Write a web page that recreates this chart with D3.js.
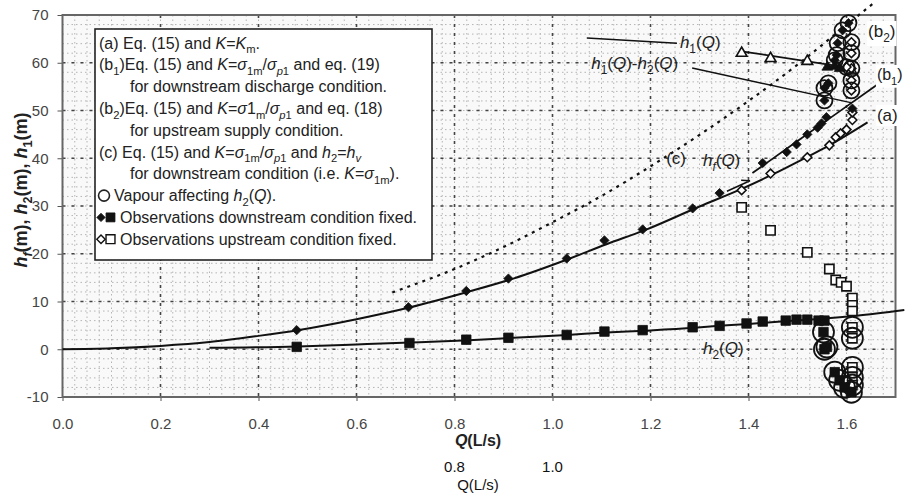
<!DOCTYPE html>
<html>
<head>
<meta charset="utf-8">
<script src="https://d3js.org/d3.v7.min.js"></script>
<style>
  body { margin: 0; background: #fff; }
  svg text { font-family: Arial, "Liberation Sans", sans-serif; }
</style>
</head>
<body>
<svg id="chart" width="906" height="495"></svg>
<script>
// ---- values ----
var xTicks = [0.0, 0.2, 0.4, 0.6, 0.8, 1.0, 1.2, 1.4, 1.6];
var yTicks = [-10, 0, 10, 20, 30, 40, 50, 60, 70];
var extraTicks = [0.8, 1.0];

// curve (a) : h_f(Q)
var curveAQ = [0, 0.1, 0.2, 0.3, 0.4, 0.48, 0.6, 0.71, 0.83, 0.92, 1.03, 1.11, 1.19, 1.3, 1.386, 1.447, 1.52, 1.565, 1.643];
var curveAH = [0, 0.2, 0.7, 1.5, 2.8, 4.0, 6.3, 8.8, 12.1, 14.8, 18.8, 22.0, 25.0, 29.9, 33.6, 36.5, 40.3, 42.7, 47.5];
// curve (b1)
var curveB1Q = [1.408, 1.5, 1.58, 1.661];
var curveB1H = [36.9, 43.6, 49.4, 55.3];
// curve (c), dotted
var curveCQ = [0.673, 0.8, 0.9, 1.0, 1.1, 1.2, 1.3, 1.4, 1.5, 1.6, 1.653];
var curveCH = [11.9, 16.8, 21.4, 26.6, 32.1, 38.3, 44.9, 52.0, 59.6, 67.9, 72.3];
// h2(Q)
var curveH2Q = [0.3, 0.48, 0.6, 0.71, 0.83, 0.92, 1.03, 1.11, 1.19, 1.29, 1.34, 1.4, 1.48, 1.55, 1.62, 1.718];
var curveH2H = [0.3, 0.6, 1.0, 1.4, 1.9, 2.4, 3.0, 3.5, 3.9, 4.5, 4.9, 5.3, 5.9, 6.4, 7.0, 8.2];
// h1(Q)
var curveH1Q = [1.386, 1.59];
var curveH1H = [62.4, 59.2];

// observations, downstream condition fixed (filled)
var dsDiamondQ = [0.478, 0.706, 0.824, 0.91, 1.029, 1.106, 1.184, 1.286, 1.341, 1.429, 1.478, 1.498, 1.52, 1.541, 1.549, 1.559, 1.612];
var dsDiamondH = [4.0, 8.8, 12.2, 14.8, 19.0, 22.8, 25.1, 29.5, 32.7, 39.0, 41.3, 42.9, 45.0, 46.4, 47.3, 48.6, 50.4];
var dsSquareQ = [0.478, 0.708, 0.824, 0.91, 1.029, 1.106, 1.184, 1.286, 1.341, 1.396, 1.429, 1.476, 1.498, 1.52, 1.543, 1.555];
var dsSquareH = [0.5, 1.3, 2.0, 2.4, 3.0, 3.7, 4.0, 4.6, 4.9, 5.4, 5.8, 6.0, 6.2, 6.2, 6.0, 6.0];
var dsTriangleQ = [1.561, 1.576, 1.586];
var dsTriangleH = [59.1, 59.3, 58.8];

// observations, upstream condition fixed (open)
var usDiamondQ = [1.386, 1.445, 1.52, 1.565, 1.578, 1.588, 1.6, 1.612, 1.612];
var usDiamondH = [33.3, 36.8, 40.2, 42.7, 44.4, 45.2, 46.0, 48.0, 49.6];
var usSquareQ = [1.386, 1.445, 1.52, 1.565, 1.578, 1.589, 1.6, 1.612, 1.612, 1.612];
var usSquareH = [29.7, 24.9, 20.3, 16.8, 14.5, 14.0, 13.2, 10.7, 9.2, 8.0];
var usTriangleQ = [1.386, 1.445, 1.52, 1.61];
var usTriangleH = [62.0, 60.9, 60.3, 58.3];

// vapour affecting h2(Q) (circled)
var vdDiamondQ = [1.555, 1.563, 1.555, 1.576, 1.58, 1.582, 1.592, 1.604];
var vdDiamondH = [52.1, 55.7, 54.7, 60.5, 61.6, 64.1, 66.8, 68.3];
var vuDiamondQ = [1.61, 1.61, 1.61, 1.6, 1.61, 1.61];
var vuDiamondH = [54.2, 56.3, 58.8, 59.1, 62.0, 64.3];
var vdSquareQ = [1.553, 1.555, 1.56, 1.576, 1.586, 1.596, 1.61];
var vdSquareH = [3.6, 0.0, 0.5, -4.8, -6.5, -8.0, -9.0];
var vuSquareQ = [1.612, 1.612, 1.612, 1.612, 1.612];
var vuSquareH = [4.6, 2.3, -3.8, -5.9, -7.5];

// legend text: [text, style]  i = italic, s = subscript
var legendRows = [
  [["(a) Eq. (15) and "], ["K", "i"], ["="], ["K", "i"], ["m", "s"], ["."]],
  [["(b"], ["1", "s"], [")Eq. (15) and "], ["K", "i"], ["="], ["\u03c3", "i"], ["1m", "s"], ["/"], ["\u03c3", "i"], ["p", "is"], ["1", "s"], [" and eq. (19)"]],
  [["for downstream discharge condition."]],
  [["(b"], ["2", "s"], [")Eq. (15) and "], ["K", "i"], ["="], ["\u03c3", "i"], ["1"], ["m", "s"], ["/"], ["\u03c3", "i"], ["p", "is"], ["1", "s"], [" and eq. (18)"]],
  [["for upstream supply condition."]],
  [["(c) Eq. (15) and "], ["K", "i"], ["="], ["\u03c3", "i"], ["1m", "s"], ["/"], ["\u03c3", "i"], ["p", "is"], ["1", "s"], [" and "], ["h", "i"], ["2", "s"], ["="], ["h", "i"], ["v", "is"]],
  [["for downstream condition (i.e. "], ["K", "i"], ["="], ["\u03c3", "i"], ["1m", "s"], [")."]],
  [["Vapour affecting "], ["h", "i"], ["2", "s"], ["("], ["Q", "i"], [")."]],
  [["Observations downstream condition fixed."]],
  [["Observations upstream condition fixed."]]
];
var legendKind = ["text", "text", "indent", "text", "indent", "text", "indent", "circle", "filled", "open"];

// ---- drawing ----
var svg = d3.select("#chart");
var x = d3.scaleLinear().domain([0, 1.7]).range([62.5, 895.5]);
var y = d3.scaleLinear().domain([-10, 70]).range([397, 15]);

function zip(qs, hs) { return qs.map(function (q, i) { return [q, hs[i]]; }); }

function rich(sel, parts, size) {
  var cur = 0;
  parts.forEach(function (p) {
    var st = p[1] || "";
    var sub = st.indexOf("s") >= 0;
    var off = sub ? size * 0.3 : 0;
    var ts = sel.append("tspan").text(p[0]);
    if (off - cur !== 0) ts.attr("dy", off - cur);
    cur = off;
    if (st.indexOf("i") >= 0) ts.attr("font-style", "italic");
    if (sub) ts.attr("font-size", size * 0.7);
  });
}

// plot background + grid texture
svg.append("rect").attr("x", x(0)).attr("y", y(70))
  .attr("width", x(1.7) - x(0)).attr("height", y(-10) - y(70)).attr("fill", "#f9f9f9");

var grid = svg.append("g");
grid.selectAll(".mx").data(d3.range(0, 1.7001, 0.025)).enter().append("line")
  .attr("x1", function (d) { return x(d); }).attr("x2", function (d) { return x(d); })
  .attr("y1", y(70)).attr("y2", y(-10))
  .attr("stroke", "#b4b4b4").attr("stroke-width", 1).attr("stroke-dasharray", "1.5,3");
grid.selectAll(".my").data(d3.range(-10, 70.01, 2)).enter().append("line")
  .attr("y1", function (d) { return y(d); }).attr("y2", function (d) { return y(d); })
  .attr("x1", x(0)).attr("x2", x(1.7))
  .attr("stroke", "#b4b4b4").attr("stroke-width", 1).attr("stroke-dasharray", "1.5,3");
grid.selectAll(".Mx").data(xTicks.slice(1)).enter().append("line")
  .attr("x1", function (d) { return x(d); }).attr("x2", function (d) { return x(d); })
  .attr("y1", y(70)).attr("y2", y(-10))
  .attr("stroke", "#444").attr("stroke-width", 1.6).attr("stroke-dasharray", "3,6");
grid.selectAll(".My").data(yTicks.slice(1, -1)).enter().append("line")
  .attr("y1", function (d) { return y(d); }).attr("y2", function (d) { return y(d); })
  .attr("x1", x(0)).attr("x2", x(1.7))
  .attr("stroke", "#444").attr("stroke-width", 1.6).attr("stroke-dasharray", "3,6");

// axes
var ya = svg.append("g").attr("transform", "translate(" + x(0) + ",0)")
  .call(d3.axisLeft(y).tickValues(yTicks).tickFormat(function (d) { return String(d); })
    .tickSize(5).tickPadding(9));
var xa = svg.append("g").attr("transform", "translate(0," + y(-10) + ")")
  .call(d3.axisBottom(x).tickValues(xTicks).tickFormat(d3.format(".1f")).tickSize(4).tickPadding(17));
[ya, xa].forEach(function (a) {
  a.select(".domain").remove();
  a.selectAll("line").attr("stroke", "#555");
  a.selectAll("text").attr("font-size", 15).attr("fill", "#444")
    .attr("font-family", "Arial, 'Liberation Sans', sans-serif");
});

// plot frame
svg.append("rect").attr("x", x(0)).attr("y", y(70))
  .attr("width", x(1.7) - x(0)).attr("height", y(-10) - y(70))
  .attr("fill", "none").attr("stroke", "#666").attr("stroke-width", 2);

// axis titles
var yt = svg.append("text").attr("transform", "translate(27,190) rotate(-90)")
  .attr("text-anchor", "middle").attr("font-size", 18).attr("font-weight", "bold").attr("fill", "#222");
rich(yt, [["h", "i"], ["f", "is"], ["(m), "], ["h", "i"], ["2", "s"], ["(m), "], ["h", "i"], ["1", "s"], ["(m)"]], 18);
var xt = svg.append("text").attr("x", 478).attr("y", 446)
  .attr("text-anchor", "middle").attr("font-size", 16).attr("font-weight", "bold").attr("fill", "#222");
rich(xt, [["Q", "i"], ["(L/s)"]], 16);

// stray second axis text under the chart
svg.selectAll(".extra").data(extraTicks).enter().append("text")
  .attr("x", function (d) { return x(d); }).attr("y", 472)
  .attr("text-anchor", "middle").attr("font-size", 15).attr("fill", "#111")
  .text(function (d) { return d3.format(".1f")(d); });
svg.append("text").attr("x", 478).attr("y", 490).attr("text-anchor", "middle")
  .attr("font-size", 15).attr("fill", "#111").text("Q(L/s)");

// curves
var line = d3.line().x(function (d) { return x(d[0]); }).y(function (d) { return y(d[1]); });
var smooth = d3.line().curve(d3.curveMonotoneX).x(function (d) { return x(d[0]); }).y(function (d) { return y(d[1]); });
var curves = svg.append("g").attr("fill", "none").attr("stroke", "#111");
curves.append("path").attr("d", smooth(zip(curveAQ, curveAH))).attr("stroke-width", 2);
curves.append("path").attr("d", line(zip(curveB1Q, curveB1H))).attr("stroke-width", 1.8);
curves.append("path").attr("d", smooth(zip(curveCQ, curveCH))).attr("stroke-width", 2.2).attr("stroke-dasharray", "3,5");
curves.append("path").attr("d", smooth(zip(curveH2Q, curveH2H))).attr("stroke-width", 2);
curves.append("path").attr("d", line(zip(curveH1Q, curveH1H))).attr("stroke-width", 1.8);

// markers
var sym = function (type, size) { return d3.symbol().type(type).size(size)(); };
function markers(qs, hs, type, size, filled) {
  svg.append("g").selectAll("path").data(zip(qs, hs)).enter().append("path")
    .attr("transform", function (d) { return "translate(" + x(d[0]) + "," + y(d[1]) + ")"; })
    .attr("d", sym(type, size))
    .attr("fill", filled ? "#111" : "#fff").attr("stroke", "#111").attr("stroke-width", filled ? 0.8 : 1.6);
}
function rings(qs, hs, r) {
  svg.append("g").selectAll("circle").data(zip(qs, hs)).enter().append("circle")
    .attr("cx", function (d) { return x(d[0]); }).attr("cy", function (d) { return y(d[1]); })
    .attr("r", r).attr("fill", "none").attr("stroke", "#111").attr("stroke-width", 1.8);
}
markers(usSquareQ, usSquareH, d3.symbolSquare, 85, false);
markers(usDiamondQ, usDiamondH, d3.symbolDiamond2, 50, false);
markers(usTriangleQ, usTriangleH, d3.symbolTriangle, 50, false);
markers(dsSquareQ, dsSquareH, d3.symbolSquare, 90, true);
markers(dsDiamondQ, dsDiamondH, d3.symbolDiamond2, 55, true);
markers(dsTriangleQ, dsTriangleH, d3.symbolTriangle, 50, true);
markers(vuSquareQ, vuSquareH, d3.symbolSquare, 85, false);
markers(vdSquareQ, vdSquareH, d3.symbolSquare, 90, true);
markers(vuDiamondQ, vuDiamondH, d3.symbolDiamond2, 50, false);
markers(vdDiamondQ, vdDiamondH, d3.symbolDiamond2, 55, true);
rings(vdDiamondQ, vdDiamondH, 8);
rings(vuDiamondQ, vuDiamondH, 8);
rings(vdSquareQ, vdSquareH, 10.5);
rings(vuSquareQ, vuSquareH, 10.5);

// annotations (positions in data units)
var ann = svg.append("g");
function label(q, h, parts, bg, size) {
  size = size || 17;
  var t = ann.append("text").attr("x", x(q)).attr("y", y(h)).attr("font-size", size).attr("fill", "#222");
  rich(t, parts, size);
  if (bg) {
    var b = t.node().getBBox();
    ann.insert("rect", "text").attr("x", b.x - 1).attr("y", b.y - 1)
      .attr("width", b.width + 2).attr("height", b.height + 2).attr("fill", "#fff");
  }
}
label(1.260, 63.1, [["h", "i"], ["1", "s"], ["("], ["Q", "i"], [")"]], false);
label(1.079, 58.7, [["h", "i"], ["1", "s"], ["("], ["Q", "i"], [")-"], ["h", "i"], ["2", "s"], ["("], ["Q", "i"], [")"]], false);
label(1.644, 65.4, [["(b"], ["2", "s"], [")"]], true);
label(1.662, 56.4, [["(b"], ["1", "s"], [")"]], true, 16);
label(1.662, 47.8, [["(a)"]], true);
label(1.232, 38.8, [["(c)"]], false);
label(1.307, 38.4, [["h", "i"], ["f", "is"], ["("], ["Q", "i"], [")"]], false);
label(1.307, -1.0, [["h", "i"], ["2", "s"], ["("], ["Q", "i"], [")"]], false);

var leaders = [
  [[1.070, 65.2], [1.254, 64.1]],
  [[1.285, 58.9], [1.611, 51.6]],
  [[1.356, 33.1], [1.403, 35.3], [1.385, 35.4]]
];
ann.selectAll(".lead").data(leaders).enter().append("path")
  .attr("d", line).attr("fill", "none").attr("stroke", "#111").attr("stroke-width", 1.5);

// legend
var lg = svg.append("g");
lg.append("rect").attr("x", 95).attr("y", 29).attr("width", 337).attr("height", 231)
  .attr("fill", "#fff").attr("stroke", "#222").attr("stroke-width", 1.6);
var rowY = function (i) { return 48.5 + i * 21.8; };
var startX = { text: 99, indent: 130, circle: 114, filled: 120, open: 120 };
legendRows.forEach(function (parts, i) {
  var kind = legendKind[i];
  var t = lg.append("text").attr("x", startX[kind]).attr("y", rowY(i))
    .attr("font-size", 16).attr("fill", "#222");
  rich(t, parts, 16);
  var cy = rowY(i) - 5.5;
  if (kind === "circle") {
    lg.append("circle").attr("cx", 104).attr("cy", cy).attr("r", 5.5)
      .attr("fill", "none").attr("stroke", "#222").attr("stroke-width", 1.6);
  } else if (kind === "filled" || kind === "open") {
    var f = kind === "filled";
    lg.append("path").attr("transform", "translate(101," + cy + ")").attr("d", sym(d3.symbolDiamond2, 45))
      .attr("fill", f ? "#111" : "#fff").attr("stroke", "#111").attr("stroke-width", f ? 0.8 : 1.4);
    lg.append("path").attr("transform", "translate(110.5," + cy + ")").attr("d", sym(d3.symbolSquare, 80))
      .attr("fill", f ? "#111" : "#fff").attr("stroke", "#111").attr("stroke-width", f ? 0.8 : 1.4);
  }
});
</script>
</body>
</html>
